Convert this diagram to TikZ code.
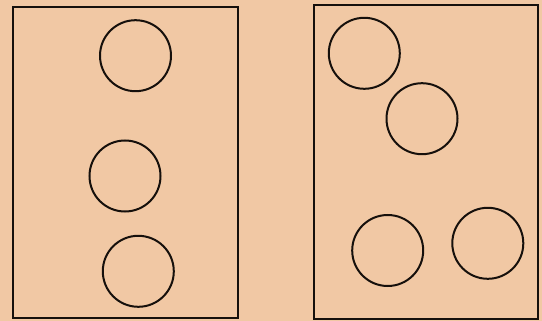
\documentclass[tikz,border=0pt]{standalone}
\definecolor{paper}{RGB}{241,200,164}
\definecolor{ink}{RGB}{22,16,12}
\begin{document}
\begin{tikzpicture}[x=1pt,y=-1pt,
  frame/.style={draw=ink,line width=2.6pt,inner sep=0pt,minimum width=0pt},
  ring/.style={draw=ink,line width=2pt,circle,inner sep=0pt,minimum size=71pt}]
\fill[paper] (0,0) rectangle (542,321);
\useasboundingbox (0,0) rectangle (542,321);
\draw[frame] (13,7) rectangle (238,318);
\draw[frame] (314,5) rectangle (538,319);
\node[ring] (c1) at (135.5,55.7) {};
\node[ring] (c2) at (125,176) {};
\node[ring] (c3) at (138.3,271.3) {};
\node[ring] (c4) at (364.3,53.3) {};
\node[ring] (c5) at (422,118.7) {};
\node[ring] (c6) at (387.7,250.5) {};
\node[ring] (c7) at (487.8,243.3) {};
\end{tikzpicture}
\end{document}
